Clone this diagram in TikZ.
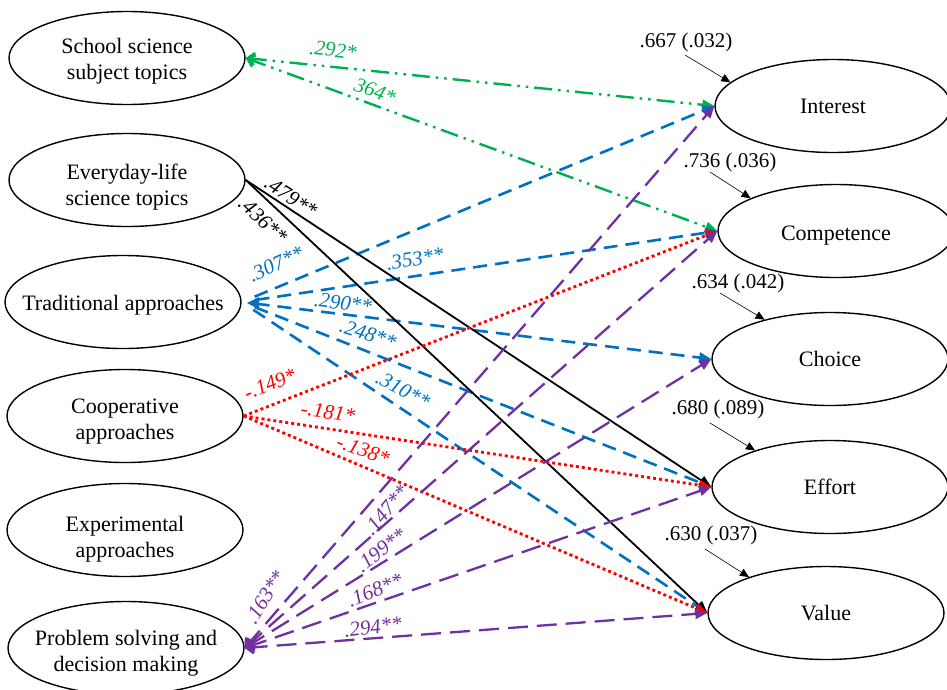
\documentclass[tikz,border=0pt]{standalone}
\usepackage{fontspec}
\setmainfont{Liberation Serif}
\usetikzlibrary{arrows.meta,shapes.geometric,calc}
\definecolor{cgreen}{RGB}{0,176,80}
\definecolor{cblue}{RGB}{0,112,192}
\definecolor{cred}{RGB}{255,0,0}
\definecolor{cpurple}{RGB}{112,48,160}
\newcommand{\upr}[1]{\rule{0pt}{#1}}
\begin{document}
\begin{tikzpicture}[x=1pt,y=-1pt,
  var/.style={ellipse,draw,line width=1.4pt,minimum width=236pt,minimum height=93pt,inner ysep=0pt,inner xsep=-30pt,align=center,font=\fontsize{22}{26}\selectfont},
  lab/.style={font=\fontsize{21}{24}\selectfont\itshape,inner sep=0pt},
  res/.style={font=\fontsize{21}{24}\selectfont,inner sep=0pt},
  resarrow/.style={draw,line width=0.6pt,-{Triangle[length=9pt,width=8pt]}},
  tip/.style={-{Triangle[length=12pt,width=10pt]}},
  greenpath/.style={cgreen,line width=2.4pt,dash pattern=on 18pt off 6pt on 2.5pt off 6pt on 2.5pt off 6pt,{Straight Barb[length=7pt,width=12pt]}-{Triangle[length=12pt,width=10pt]}},
  bluepath/.style={cblue,line width=2.6pt,tip,dash pattern=on 14pt off 8pt,shorten <=14pt},
  blackpath/.style={black,line width=1.8pt,tip},
  redpath/.style={cred,line width=2.8pt,tip,dash pattern=on 3pt off 3pt},
  purplepath/.style={cpurple,line width=2.3pt,dash pattern=on 20pt off 9pt,{Straight Barb[length=7pt,width=12pt]}-{Triangle[length=12pt,width=10pt]}}
]
\useasboundingbox (0,0) rectangle (947,689);

% predictors
\node[var] (sst) at (127,58) {\upr{22pt}School science\\subject topics};
\node[var] (elt) at (127,180) {\upr{30pt}Everyday-life\\science topics};
\node[var] (tra) at (123,302) {\upr{22pt}Traditional approaches};
\node[var] (coo) at (125,416) {\upr{26pt}Cooperative\\approaches};
\node[var] (exp) at (125,530) {\upr{34pt}Experimental\\approaches};
\node[var] (psd) at (126,648) {\upr{26pt}Problem solving and\\decision making};

% outcomes
\node[var] (int) at (833,106) {Interest};
\node[var] (com) at (836,231) {\upr{24pt}Competence};
\node[var] (cho) at (830,359) {Choice};
\node[var] (eff) at (830,487) {Effort};
\node[var] (val) at (826,613) {Value};

% green
\draw[greenpath] (sst.east) -- (int.west);
\draw[greenpath] (sst.east) -- (com.west);

% blue
\coordinate (tritip) at (247,303);
\fill[cblue] (tritip) -- ++(12,-6) -- ++(0,12) -- cycle;
\draw[bluepath] (tra.east) -- (int.west);
\draw[bluepath] (tra.east) -- (com.west);
\draw[bluepath] (tra.east) -- (cho.west);
\draw[bluepath] (tra.east) -- (eff.west);
\draw[bluepath] (tra.east) -- (val.west);

% black
\draw[blackpath] (elt.east) -- (eff.west);
\draw[blackpath] (elt.east) -- (val.west);

% red
\draw[redpath] (coo.east) -- (com.west);
\draw[redpath] (coo.east) -- (eff.west);
\draw[redpath] (coo.east) -- (val.west);

% purple
\draw[purplepath] (psd.east) -- (int.west);
\draw[purplepath] (psd.east) -- (com.west);
\draw[purplepath] (psd.east) -- (cho.west);
\draw[purplepath] (psd.east) -- (eff.west);
\draw[purplepath] (psd.east) -- (val.west);

% labels
\node[lab,text=cgreen,rotate=-6] (l292) at (333,50) {.292*};
\node[lab,text=cgreen,rotate=-20] (l364) at (375,91) {364*};
\node[lab,text=black,rotate=-33] (l479) at (291,197) {.479**};
\node[lab,text=black,rotate=-43] (l436) at (263,220) {.436**};
\node[lab,text=cblue,rotate=25] (l307) at (276,264) {.307**};
\node[lab,text=cblue,rotate=9] (l353) at (415,259) {.353**};
\node[lab,text=cblue,rotate=-7] (l290) at (343,303) {.290**};
\node[lab,text=cblue,rotate=-18] (l248) at (368,334) {.248**};
\node[lab,text=cblue,rotate=-28] (l310) at (403,390) {.310**};
\node[lab,text=cred,rotate=22] (l149) at (270,384) {-.149*};
\node[lab,text=cred,rotate=-8] (l181) at (328,412) {-.181*};
\node[lab,text=cred,rotate=-20] (l138) at (363,450) {-.138*};
\node[lab,text=cpurple,rotate=58] (l163) at (265,597) {.163**};
\node[lab,text=cpurple,rotate=50] (l147) at (386,510) {.147**};
\node[lab,text=cpurple,rotate=38] (l199) at (381,550) {.199**};
\node[lab,text=cpurple,rotate=22] (l168) at (375,590) {.168**};
\node[lab,text=cpurple,rotate=7] (l294) at (373,627) {.294**};

% residuals
\node[res] (r1) at (686,42) {.667 (.032)};
\node[res] (r2) at (730,162) {.736 (.036)};
\node[res] (r3) at (738,283) {.634 (.042)};
\node[res] (r4) at (718,409) {.680 (.089)};
\node[res] (r5) at (711,535) {.630 (.037)};
\coordinate (s1) at (685,55);
\coordinate (s2) at (710,172);
\coordinate (s3) at (720,293);
\coordinate (s4) at (710,423);
\coordinate (s5) at (705,549);
\draw[resarrow] (s1) -- (int.167);
\draw[resarrow] (s2) -- (com.159);
\draw[resarrow] (s3) -- (cho.149);
\draw[resarrow] (s4) -- (eff.154);
\draw[resarrow] (s5) -- (val.155);
\end{tikzpicture}
\end{document}
